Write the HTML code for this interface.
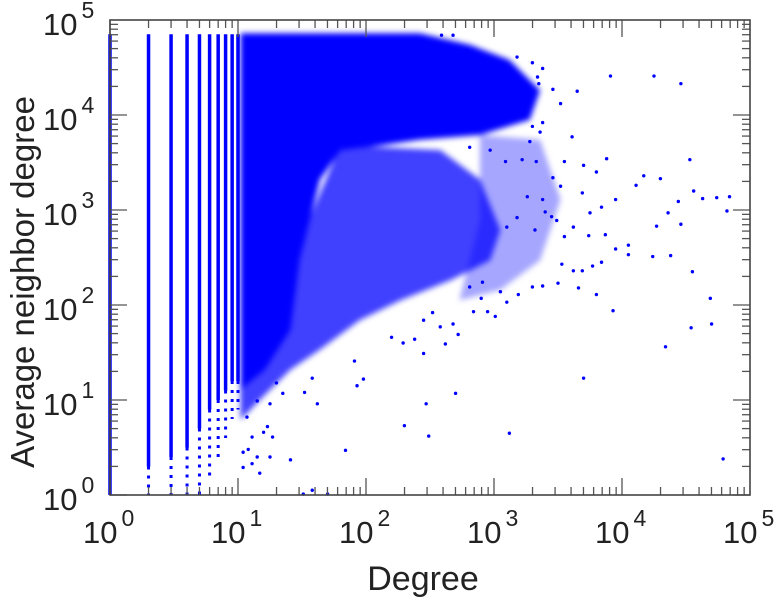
<!DOCTYPE html>
<html><head><meta charset="utf-8"><style>
body{margin:0;background:#fff;}
svg{display:block;font-family:"Liberation Sans",sans-serif;}
</style></head><body>
<svg id="chart" width="776" height="600">
<defs><filter id="soft" x="-10%" y="-10%" width="120%" height="120%"><feGaussianBlur stdDeviation="3"/></filter></defs>
</svg>
<script>
// data (log10 units)
const columnDegrees=[1,2,3,4,5,6,7,8,9,10];
const columnSolidLow=[0,0.3,0.4,0.5,0.7,0.9,1.0,1.1,1.2,1.2];
const columnDotLow=[0,0,0,0,0,0.2,0.4,0.6,0.8,0.9];
const columnTop=4.85;
const denseCoreX=[1.02,2.42,2.81,3.12,3.36,3.28,2.89,2.42,2.11,1.80,1.64,1.48,1.41,1.21,1.02];
const denseCoreY=[4.86,4.86,4.74,4.58,4.26,3.95,3.79,3.74,3.68,3.63,3.32,2.47,1.74,1.32,1.11];
const denseMidX=[1.80,2.58,2.89,3.05,2.97,2.66,2.27,1.95,1.64,1.41,1.17,1.02,1.02];
const denseMidY=[3.68,3.63,3.32,2.79,2.47,2.26,2.05,1.84,1.53,1.32,1.00,0.79,1.2];
const denseLowX=[2.89,3.36,3.52,3.36,3.05,2.73,2.89];
const denseLowY=[3.79,3.74,3.11,2.47,2.16,2.05,2.89];
const pointsX=[3.91,4.25,4.46,3.65,3.61,3.88,4.53,4.17,4.30,4.11,4.56,4.74,4.84,4.63,4.44,4.82,4.36,4.46,4.27,4.24,4.38,4.05,4.05,3.95,3.87,3.74,3.75,3.84,3.95,3.69,3.80,3.70,3.55,3.52,3.46,3.40,3.62,3.55,3.49,3.45,3.38,3.33,3.22,3.09,3.26,3.18,3.10,3.32,3.38,3.52,3.46,3.35,3.38,3.30,3.18,3.34,3.30,3.28,3.36,2.79,2.59,2.68,3.18,3.14,2.97,2.81,
4.55,4.69,4.54,4.70,4.34,3.93,3.80,3.70,4.79,3.66,3.50,3.12,2.70,2.47,2.49,2.30,2.45,1.98,1.93,1.91,1.84,1.62,1.52,1.41,1.58,1.35,1.30,1.25,1.27,1.23,1.20,1.25,1.15,1.17,1.11,1.08,1.04,1.07,1.11,1.04,1.15,1.51,1.58,1.70,2.84,2.95,3.01,2.90,2.72,2.62,2.45,2.29,2.20,2.38,3.05,3.19,3.30,3.38,2.58,2.68,2.52,2.81,2.91,3.10,3.53,3.62,3.77,3.84,3.69];
const pointsY=[4.41,4.41,4.33,4.25,3.77,3.54,3.53,3.36,3.33,3.26,3.20,3.13,3.14,3.12,3.09,2.99,2.97,2.85,2.83,2.51,2.52,2.63,2.53,2.59,2.74,2.73,2.97,3.03,3.11,3.18,3.40,3.47,3.51,3.25,3.34,2.98,2.82,2.72,2.89,2.93,3.11,3.51,3.53,3.51,3.14,2.92,2.82,2.79,3.92,4.12,4.27,4.33,4.49,4.55,4.61,4.40,3.88,3.72,3.82,4.68,4.84,4.84,4.32,4.14,3.63,3.66,
2.35,2.07,1.76,1.80,1.56,1.94,2.11,1.23,0.38,2.18,2.23,0.65,1.07,0.96,0.62,0.73,1.49,1.22,1.15,1.41,0.47,0.96,1.08,0.37,1.23,1.07,1.18,0.96,0.61,0.72,0.66,0.40,0.40,0.23,0.33,0.48,0.45,0.82,0.61,0.29,0.99,0.01,0.05,0.01,1.93,1.93,1.88,2.07,1.69,1.59,1.84,1.60,1.66,1.64,2.14,2.11,2.19,2.20,1.77,1.80,1.92,2.19,2.24,2.03,2.43,2.36,2.41,2.45,2.36];
const tickExps=[0,1,2,3,4,5];

const L=110,R=750,T=20,B=495,DX=128,DY=95;
const sx=v=>L+v*DX, sy=v=>B-v*DY;
const NS="http://www.w3.org/2000/svg";
const svg=document.getElementById('chart');
function mk(t,a,p){const e=document.createElementNS(NS,t);for(const k in a)e.setAttribute(k,a[k]);(p||svg).appendChild(e);return e;}

const plot=mk('g',{});


const dense=mk('g',{filter:'url(#soft)'},plot);


function poly(xs,ys,op,name){
  const pts=xs.map((x,i)=>sx(x)+','+sy(ys[i])).join(' ');
  const p=mk('polygon',{points:pts,fill:'#0000ff','fill-opacity':op},dense);
  
  
}
poly(denseLowX,denseLowY,0.35,'dense-region-sparse');
poly(denseMidX,denseMidY,0.75,'dense-region-mid');
poly(denseCoreX,denseCoreY,1,'dense-region-core');
columnDegrees.forEach((k,i)=>{
  const x=sx(Math.log10(k));
  const l=mk('line',{x1:x,x2:x,y1:sy(columnTop),y2:sy(columnSolidLow[i]),stroke:'#0000ff','stroke-width':3.5},plot);
  
  
  const d=mk('line',{x1:x,x2:x,y1:sy(columnSolidLow[i]),y2:sy(columnDotLow[i]),stroke:'#0000ff','stroke-width':3,'stroke-dasharray':'3 6'},plot);
  
  
});
pointsX.forEach((x,i)=>{
  const c=mk('circle',{cx:sx(x),cy:sy(pointsY[i]),r:1.7,fill:'#0000ff'},plot);
  
  
});

const ax=mk('g',{stroke:'#555','stroke-width':1.3});


for(let e=0;e<5;e++){for(let m=1;m<10;m++){
  const v=e+Math.log10(m), len=m===1?17:8;
  const x=sx(v),y=sy(v);
  mk('line',{x1:x,x2:x,y1:B,y2:B-len},ax);
  mk('line',{x1:x,x2:x,y1:T,y2:T+len},ax);
  mk('line',{x1:L,x2:L+len,y1:y,y2:y},ax);
  mk('line',{x1:R,x2:R-len,y1:y,y2:y},ax);
}}
const fr=mk('rect',{x:L,y:T,width:R-L,height:B-T,fill:'none',stroke:'#444','stroke-width':1.6});



tickExps.forEach(e=>{
  const t=mk('text',{x:sx(e)-27,y:543,'text-anchor':'start','font-size':31,fill:'#222'});
  
  
  t.innerHTML='10<tspan dx="4" dy="-17" font-size="23">'+e+'</tspan>';
  const u=mk('text',{x:43,y:sy(e)+15,'text-anchor':'start','font-size':31,fill:'#222'});
  
  
  u.innerHTML='10<tspan dx="4" dy="-17" font-size="23">'+e+'</tspan>';
});
const xt=mk('text',{x:423,y:590,'text-anchor':'middle','font-size':34,fill:'#222'});


xt.textContent='Degree';
const yt=mk('text',{x:0,y:0,'text-anchor':'middle','font-size':33,fill:'#222',transform:'translate(34,282) rotate(-90)'});


yt.textContent='Average neighbor degree';
</script>
</body></html>
